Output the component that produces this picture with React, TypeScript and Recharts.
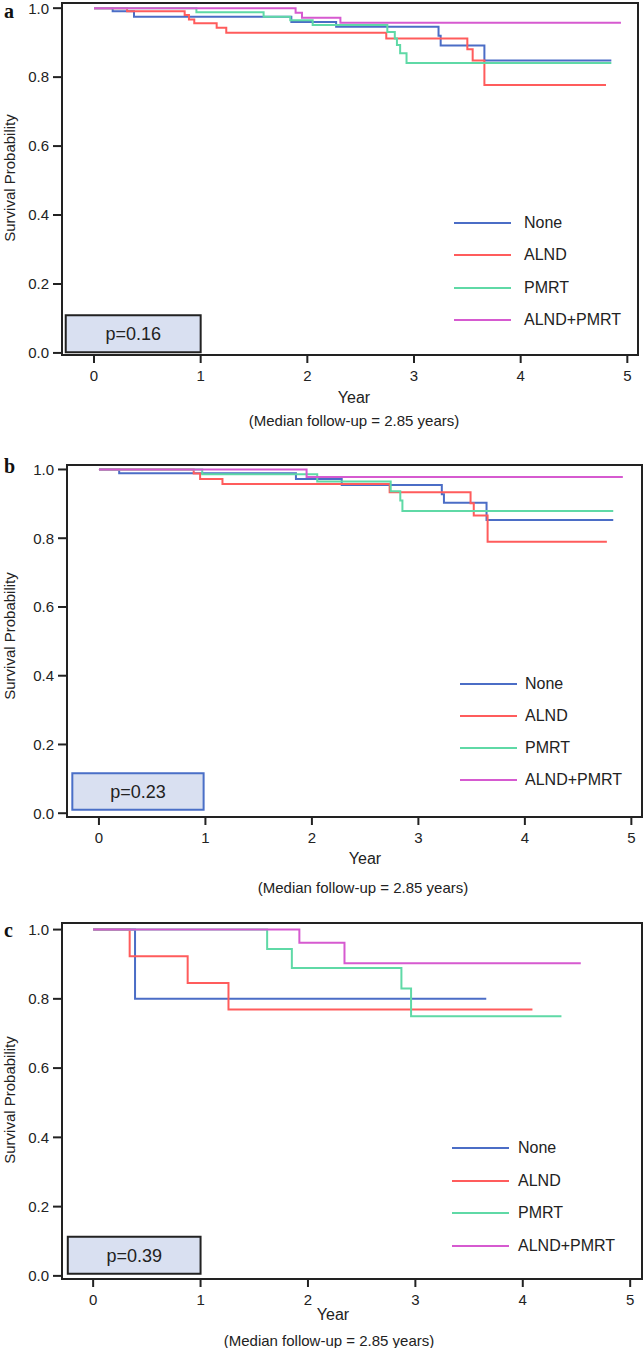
import { LineChart, Line, XAxis, YAxis, ReferenceArea } from "recharts";

type Pt = [number, number]; // [year, survival]

const GROUPS = ["None", "ALND", "PMRT", "ALND+PMRT"];
const COLORS = ["#4b6dc6", "#ff5c5c", "#5fd9a6", "#d65ad0"];
const YEAR_TICKS = [0, 1, 2, 3, 4, 5];
const PROB_TICKS = [0, 0.2, 0.4, 0.6, 0.8, 1.0];
const P_VALUES = ["p=0.16", "p=0.23", "p=0.39"];
const FOLLOW_UP = "(Median follow-up = 2.85 years)";

// panel a
const A_NONE: Pt[] = [[0, 1], [0.175, 0.991], [0.375, 0.975], [1.85, 0.96], [2.27, 0.946], [3.23, 0.92], [3.25, 0.892], [3.66, 0.848], [4.85, 0.848]];
const A_ALND: Pt[] = [[0, 1], [0.31, 0.991], [0.85, 0.98], [0.89, 0.967], [0.94, 0.956], [1.15, 0.943], [1.24, 0.929], [2.74, 0.912], [3.5, 0.881], [3.55, 0.848], [3.66, 0.777], [4.8, 0.777]];
const A_PMRT: Pt[] = [[0, 1], [0.96, 0.988], [1.59, 0.975], [1.84, 0.965], [2.05, 0.951], [2.75, 0.931], [2.82, 0.912], [2.84, 0.893], [2.87, 0.869], [2.93, 0.841], [4.85, 0.841]];
const A_BOTH: Pt[] = [[0, 1], [1.89, 0.987], [1.95, 0.972], [2.31, 0.958], [4.94, 0.958]];

// panel b
const B_NONE: Pt[] = [[0, 1], [0.19, 0.989], [1.85, 0.972], [2.28, 0.955], [3.22, 0.928], [3.24, 0.903], [3.64, 0.853], [4.83, 0.853]];
const B_ALND: Pt[] = [[0, 1], [0.89, 0.988], [0.95, 0.972], [1.16, 0.958], [2.73, 0.934], [3.49, 0.902], [3.52, 0.866], [3.65, 0.79], [4.77, 0.79]];
const B_PMRT: Pt[] = [[0, 1], [0.97, 0.986], [2.05, 0.965], [2.74, 0.937], [2.83, 0.91], [2.85, 0.879], [4.83, 0.879]];
const B_BOTH: Pt[] = [[0, 1], [1.95, 0.978], [4.92, 0.978]];

// panel c
const C_NONE: Pt[] = [[0, 1], [0.39, 0.8], [3.66, 0.8]];
const C_ALND: Pt[] = [[0, 1], [0.34, 0.923], [0.88, 0.846], [1.26, 0.769], [4.09, 0.769]];
const C_PMRT: Pt[] = [[0, 1], [1.62, 0.944], [1.85, 0.889], [2.87, 0.83], [2.96, 0.75], [4.36, 0.75]];
const C_BOTH: Pt[] = [[0, 1], [1.92, 0.962], [2.34, 0.903], [4.54, 0.903]];

const FONT = "'Liberation Sans', Arial, Helvetica, sans-serif";
const INK = "#222";

interface PanelCfg {
  letter: string;
  letterTop: number;
  series: Pt[][];
  pText: string;
  pBorder: string;
  pArea: [number, number, number, number]; // x1, x2, y1, y2 in data units
  top: number;
  height: number;
  plot: { left: number; right: number; top: number; bottom: number };
  xDomain: [number, number];
  yDomain: [number, number];
  legend: { lineX: number; labelX: number; top: number; gap: number };
  yearX: number;
  yearY: number;
  medianX: number;
  medianY: number;
  yLabelY: number;
}

const PANELS: PanelCfg[] = [
  {
    letter: "a",
    letterTop: 0,
    series: [A_NONE, A_ALND, A_PMRT, A_BOTH],
    pText: P_VALUES[0],
    pBorder: "#222",
    pArea: [-0.265, 1.0, 0.002, 0.109],
    top: 0,
    height: 440,
    plot: { left: 62, right: 638, top: 3, bottom: 355 },
    xDomain: [-0.3, 5.1],
    yDomain: [-0.006, 1.015],
    legend: { lineX: 454, labelX: 524, top: 223, gap: 32.4 },
    yearX: 354,
    yearY: 398,
    medianX: 354,
    medianY: 420,
    yLabelY: 178,
  },
  {
    letter: "b",
    letterTop: 455,
    series: [B_NONE, B_ALND, B_PMRT, B_BOTH],
    pText: P_VALUES[1],
    pBorder: "#4a6fc7",
    pArea: [-0.25, 0.983, 0.01, 0.116],
    top: 440,
    height: 455,
    plot: { left: 67, right: 642, top: 465, bottom: 817 },
    xDomain: [-0.3, 5.1],
    yDomain: [-0.011, 1.013],
    legend: { lineX: 460, labelX: 525, top: 684, gap: 32 },
    yearX: 365,
    yearY: 859,
    medianX: 363,
    medianY: 887,
    yLabelY: 636,
  },
  {
    letter: "c",
    letterTop: 919,
    series: [C_NONE, C_ALND, C_PMRT, C_BOTH],
    pText: P_VALUES[2],
    pBorder: "#222",
    pArea: [-0.236, 1.0, 0.006, 0.113],
    top: 895,
    height: 453,
    plot: { left: 62, right: 642, top: 923, bottom: 1279 },
    xDomain: [-0.29, 5.11],
    yDomain: [-0.009, 1.019],
    legend: { lineX: 452, labelX: 518, top: 1148, gap: 32.6 },
    yearX: 333,
    yearY: 1315,
    medianX: 329,
    medianY: 1340,
    yLabelY: 1100,
  },
];

const centered = (x: number, y: number, size: number): React.CSSProperties => ({
  position: "absolute",
  left: x,
  top: y,
  transform: "translate(-50%, -50%)",
  fontFamily: FONT,
  fontSize: size,
  color: INK,
  whiteSpace: "nowrap",
  lineHeight: 1,
});

function SurvivalPanel({ cfg }: { cfg: PanelCfg }) {
  const { plot } = cfg;
  const xAxisHeight = cfg.height - (plot.bottom - cfg.top);
  const tickStyle = { fill: INK, fontSize: 15, fontFamily: FONT };

  return (
    <>
      <div style={{ position: "absolute", left: 0, top: cfg.top }}>
        <LineChart
          width={644}
          height={cfg.height}
          margin={{ top: plot.top - cfg.top, right: 644 - plot.right, bottom: 0, left: 0 }}
        >
          <XAxis
            type="number"
            dataKey="t"
            domain={cfg.xDomain}
            ticks={YEAR_TICKS}
            allowDataOverflow
            height={xAxisHeight}
            axisLine={false}
            tickSize={8}
            tickMargin={7}
            tickLine={{ stroke: INK, strokeWidth: 2 }}
            tick={tickStyle}
          />
          <YAxis
            type="number"
            dataKey="s"
            domain={cfg.yDomain}
            ticks={PROB_TICKS}
            allowDataOverflow
            width={plot.left}
            axisLine={false}
            tickSize={9}
            tickMargin={4}
            tickLine={{ stroke: INK, strokeWidth: 2 }}
            tick={tickStyle}
            tickFormatter={(v: number) => v.toFixed(1)}
          />
          <ReferenceArea
            x1={cfg.pArea[0]}
            x2={cfg.pArea[1]}
            y1={cfg.pArea[2]}
            y2={cfg.pArea[3]}
            fill="#d9e0f1"
            fillOpacity={1}
            stroke={cfg.pBorder}
            strokeWidth={2}
            ifOverflow="visible"
            label={{ value: cfg.pText, position: "center", fill: INK, fontSize: 18, fontFamily: FONT }}
          />
          {cfg.series.map((pts, i) => (
            <Line
              key={GROUPS[i]}
              name={GROUPS[i]}
              data={pts.map(([t, s]) => ({ t, s }))}
              dataKey="s"
              type="stepAfter"
              stroke={COLORS[i]}
              strokeWidth={2}
              dot={false}
              activeDot={false}
              isAnimationActive={false}
            />
          ))}
          {/* plot frame */}
          <ReferenceArea
            x1={cfg.xDomain[0]}
            x2={cfg.xDomain[1]}
            y1={cfg.yDomain[0]}
            y2={cfg.yDomain[1]}
            fill="none"
            stroke={INK}
            strokeWidth={2}
            ifOverflow="visible"
          />
        </LineChart>
      </div>

      {/* legend */}
      {GROUPS.map((g, i) => {
        const y = cfg.legend.top + i * cfg.legend.gap;
        return (
          <div key={g}>
            <div
              style={{
                position: "absolute",
                left: cfg.legend.lineX,
                top: y - 1,
                width: 57,
                height: 2,
                background: COLORS[i],
              }}
            />
            <div
              style={{
                position: "absolute",
                left: cfg.legend.labelX,
                top: y,
                transform: "translateY(-50%)",
                fontFamily: FONT,
                fontSize: 16,
                color: INK,
                lineHeight: 1,
                whiteSpace: "nowrap",
              }}
            >
              {g}
            </div>
          </div>
        );
      })}

      <div
        style={{
          position: "absolute",
          left: 4,
          top: cfg.letterTop,
          fontFamily: "'Liberation Serif', 'Times New Roman', serif",
          fontWeight: "bold",
          fontSize: 20,
          lineHeight: "normal",
          color: "#111",
        }}
      >
        {cfg.letter}
      </div>
      <div style={{ ...centered(9, cfg.yLabelY, 15), transform: "translate(-50%, -50%) rotate(-90deg)" }}>
        Survival Probability
      </div>
      <div style={centered(cfg.yearX, cfg.yearY, 16)}>Year</div>
      <div style={centered(cfg.medianX, cfg.medianY, 15)}>{FOLLOW_UP}</div>
    </>
  );
}

export default function App() {
  return (
    <div
      style={{
        position: "absolute",
        left: 0,
        top: 0,
        width: 644,
        height: 1348,
        background: "#fff",
        overflow: "hidden",
      }}
    >
      {PANELS.map((p) => (
        <SurvivalPanel key={p.letter} cfg={p} />
      ))}
    </div>
  );
}
